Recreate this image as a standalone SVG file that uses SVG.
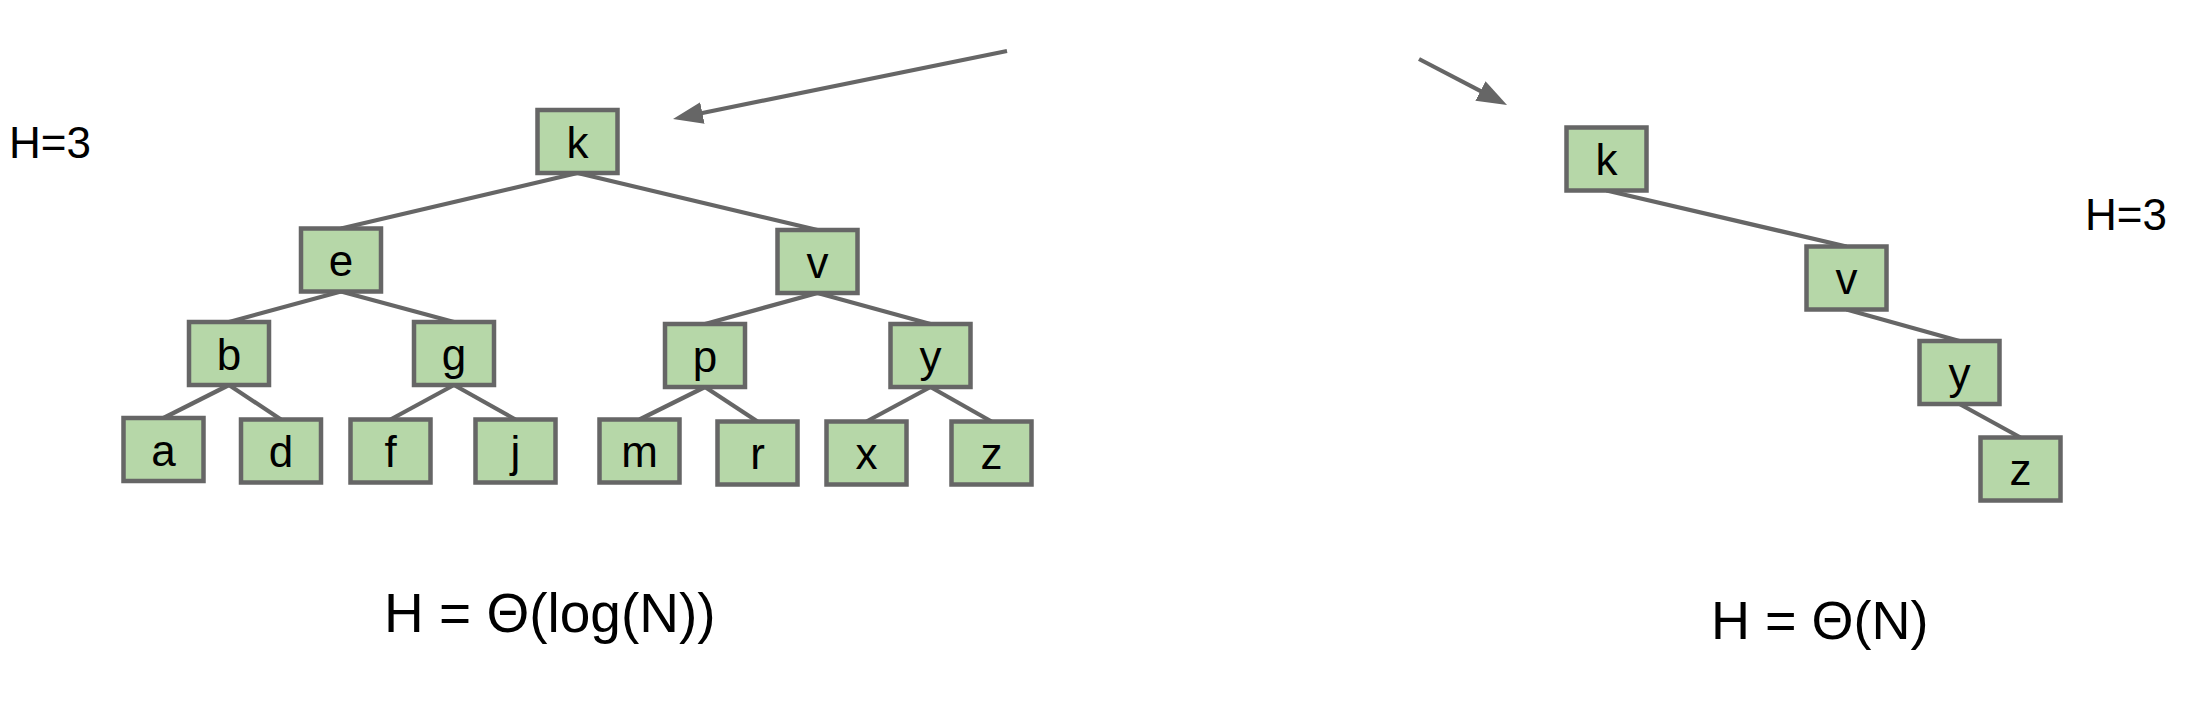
<svg xmlns="http://www.w3.org/2000/svg" width="2199" height="705" viewBox="0 0 2199 705">
<style>
.node rect{fill:#b6d7a8;stroke:#666666;stroke-width:4.5}
.node text{font-family:"Liberation Sans",Arial,sans-serif;font-size:44px;fill:#000;text-anchor:middle}
.edge{stroke:#666666;stroke-width:4.2;fill:none}
.lbl{font-family:"Liberation Sans",Arial,sans-serif;fill:#000}
</style>
<defs>
<marker id="ah" markerUnits="userSpaceOnUse" viewBox="0 0 30 22" refX="10" refY="11" markerWidth="30" markerHeight="22" orient="auto">
<path d="M0,0 L30,11 L0,22 z" fill="#666666"/>
</marker>
</defs>
<rect width="2199" height="705" fill="#ffffff"/>
<g id="connectors">
<line class="edge" x1="577.5" y1="173" x2="341" y2="228.5"/>
<line class="edge" x1="577.5" y1="173" x2="817.5" y2="230"/>
<line class="edge" x1="341" y1="291.5" x2="229" y2="322"/>
<line class="edge" x1="341" y1="291.5" x2="454" y2="322"/>
<line class="edge" x1="817.5" y1="293" x2="705" y2="324"/>
<line class="edge" x1="817.5" y1="293" x2="930.5" y2="324"/>
<line class="edge" x1="229" y1="385" x2="163.5" y2="418"/>
<line class="edge" x1="229" y1="385" x2="281" y2="419.5"/>
<line class="edge" x1="454" y1="385" x2="390.5" y2="419.5"/>
<line class="edge" x1="454" y1="385" x2="515.5" y2="419.5"/>
<line class="edge" x1="705" y1="387" x2="639.5" y2="419.5"/>
<line class="edge" x1="705" y1="387" x2="757.5" y2="421.5"/>
<line class="edge" x1="930.5" y1="387" x2="866.5" y2="421.5"/>
<line class="edge" x1="930.5" y1="387" x2="991.5" y2="421.5"/>
<line class="edge" x1="1606.5" y1="190.5" x2="1846.5" y2="246.5"/>
<line class="edge" x1="1846.5" y1="309.5" x2="1959.5" y2="341"/>
<line class="edge" x1="1959.5" y1="404" x2="2020.5" y2="437.5"/>
<line class="edge" x1="1007" y1="51" x2="692.6" y2="115" marker-end="url(#ah)"/>
<line class="edge" x1="1419" y1="59" x2="1489.3" y2="95.7" marker-end="url(#ah)"/>
</g>
<g id="n-k" class="node"><rect x="537.5" y="110" width="80" height="63"/><text x="577.5" y="157.5">k</text></g>
<g id="n-e" class="node"><rect x="301" y="228.5" width="80" height="63"/><text x="341" y="276">e</text></g>
<g id="n-v" class="node"><rect x="777.5" y="230" width="80" height="63"/><text x="817.5" y="277.5">v</text></g>
<g id="n-b" class="node"><rect x="189" y="322" width="80" height="63"/><text x="229" y="369.5">b</text></g>
<g id="n-g" class="node"><rect x="414" y="322" width="80" height="63"/><text x="454" y="369.5">g</text></g>
<g id="n-p" class="node"><rect x="665" y="324" width="80" height="63"/><text x="705" y="371.5">p</text></g>
<g id="n-y" class="node"><rect x="890.5" y="324" width="80" height="63"/><text x="930.5" y="371.5">y</text></g>
<g id="n-a" class="node"><rect x="123.5" y="418" width="80" height="63"/><text x="163.5" y="465.5">a</text></g>
<g id="n-d" class="node"><rect x="241" y="419.5" width="80" height="63"/><text x="281" y="467">d</text></g>
<g id="n-f" class="node"><rect x="350.5" y="419.5" width="80" height="63"/><text x="390.5" y="467">f</text></g>
<g id="n-j" class="node"><rect x="475.5" y="419.5" width="80" height="63"/><text x="515.5" y="467">j</text></g>
<g id="n-m" class="node"><rect x="599.5" y="419.5" width="80" height="63"/><text x="639.5" y="467">m</text></g>
<g id="n-r" class="node"><rect x="717.5" y="421.5" width="80" height="63"/><text x="757.5" y="469">r</text></g>
<g id="n-x" class="node"><rect x="826.5" y="421.5" width="80" height="63"/><text x="866.5" y="469">x</text></g>
<g id="n-z" class="node"><rect x="951.5" y="421.5" width="80" height="63"/><text x="991.5" y="469">z</text></g>
<g id="n-k2" class="node"><rect x="1566.5" y="127.5" width="80" height="63"/><text x="1606.5" y="175">k</text></g>
<g id="n-v2" class="node"><rect x="1806.5" y="246.5" width="80" height="63"/><text x="1846.5" y="294">v</text></g>
<g id="n-y2" class="node"><rect x="1919.5" y="341" width="80" height="63"/><text x="1959.5" y="388.5">y</text></g>
<g id="n-z2" class="node"><rect x="1980.5" y="437.5" width="80" height="63"/><text x="2020.5" y="485">z</text></g>
<text class="lbl" x="9" y="158" font-size="44">H=3</text>
<text class="lbl" x="2085" y="230" font-size="44">H=3</text>
<text class="lbl" x="384" y="632" font-size="55">H = Θ(log(N))</text>
<text class="lbl" x="1711" y="639" font-size="54">H = Θ(N)</text>
</svg>
